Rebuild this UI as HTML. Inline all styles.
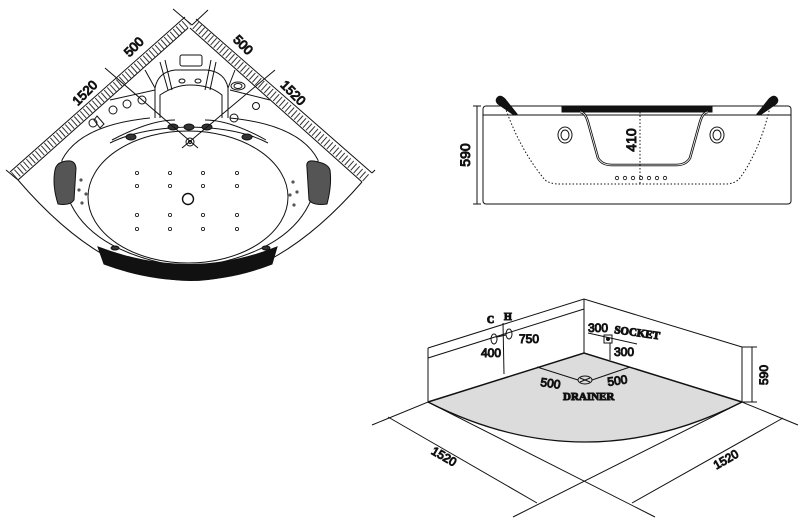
<!DOCTYPE html>
<html><head><meta charset="utf-8"><style>
html,body{margin:0;padding:0;background:#fff;}
svg{display:block;}
text{font-family:"Liberation Sans",Arial,sans-serif;fill:#111;}
.s{font-family:"Liberation Serif",serif;font-weight:bold;}
</style></head><body>
<svg width="799" height="532" viewBox="0 0 799 532" xmlns="http://www.w3.org/2000/svg" stroke="#111" fill="none" stroke-width="1">
<!-- ===== PLAN VIEW ===== -->
<g>
<path d="M14,176 L188,22" stroke-width="9" stroke-dasharray="1 3" stroke="#333"/>
<path d="M366,178 L194,24" stroke-width="9" stroke-dasharray="1 3" stroke="#333"/>
<path d="M10,172 L185,17 M18,180 L188,28 M372,173 L196,19 M362,182 L190,28"/>
<line x1="6" y1="170" x2="18" y2="180"/>
<line x1="372" y1="173" x2="375" y2="170"/>
<path d="M18,180 Q190,380 362,182"/>
<path d="M62,160 Q80,125 150,118 M230,118 Q300,125 318,160"/>
<path d="M62,160 Q60,250 190,268 Q320,250 318,160"/>
<path d="M110,143 Q140,128 190,127 Q240,128 268,143"/>
<path d="M112,140 Q150,120 175,120 M205,120 Q230,120 266,140"/>
<ellipse cx="188" cy="197" rx="100" ry="66"/>
<path d="M98,247 Q190,282 277,247 L272,264 Q190,296 104,264 Z" fill="#111"/>
<path d="M62,162 Q75,158 76,168 L74,200 Q70,206 58,204 Q52,185 55,170 Q56,164 62,162 Z" fill="#555"/>
<path d="M318,162 Q305,158 307,168 L309,200 Q313,206 327,204 Q332,185 330,170 Q328,164 318,162 Z" fill="#555"/>
<path d="M155,118 L155,88 Q158,72 175,70 L207,70 Q225,72 228,88 L228,118"/>
<path d="M160,118 L160,95 Q175,85 190,85 Q210,85 222,95 L222,118"/>
<rect x="180" y="55" width="22" height="11" rx="2"/>
<path d="M165,60 L172,90 M211,60 L205,90 M160,62 L168,90 M216,62 L210,90"/>
<path d="M145,70 L155,88 M235,70 L228,88"/>
<path d="M110,100 L155,90 M230,90 L270,100"/>
<ellipse cx="182" cy="81" rx="3" ry="2"/><ellipse cx="198" cy="81" rx="3" ry="2"/>
<ellipse cx="238" cy="86" rx="7" ry="4"/><ellipse cx="238" cy="86" rx="4" ry="2.5"/>
<circle cx="142" cy="100" r="4"/><circle cx="127" cy="104" r="4"/><circle cx="113" cy="110" r="4"/><circle cx="93" cy="123" r="4"/>
<path d="M97,116 L104,124 L100,128 L94,120 Z"/>
<circle cx="256" cy="106" r="3.5"/><circle cx="234" cy="118" r="4"/>
<g fill="#333"><ellipse cx="173" cy="127" rx="5" ry="3"/><ellipse cx="189" cy="127" rx="5" ry="3"/><ellipse cx="207" cy="127" rx="5" ry="3"/>
<ellipse cx="131" cy="137" rx="5" ry="3"/><ellipse cx="247" cy="137" rx="5" ry="3"/>
<ellipse cx="115" cy="248" rx="4" ry="2"/><ellipse cx="266" cy="248" rx="4" ry="2"/></g>
<circle cx="190" cy="142" r="4"/><circle cx="190" cy="142" r="1.5"/>
<g fill="#555" stroke="none"><circle cx="81" cy="180" r="1.6"/><circle cx="79" cy="190" r="1.6"/><circle cx="86" cy="194" r="1.6"/><circle cx="82" cy="203" r="1.6"/>
<circle cx="293" cy="182" r="1.6"/><circle cx="297" cy="192" r="1.6"/><circle cx="290" cy="195" r="1.6"/><circle cx="294" cy="205" r="1.6"/></g>
<g stroke-width="0.8">
<circle cx="137" cy="173" r="1.6"/><circle cx="170" cy="173" r="1.6"/><circle cx="203" cy="173" r="1.6"/><circle cx="237" cy="173" r="1.6"/>
<circle cx="137" cy="186" r="1.6"/><circle cx="170" cy="186" r="1.6"/><circle cx="203" cy="186" r="1.6"/><circle cx="237" cy="186" r="1.6"/>
<circle cx="137" cy="215" r="1.6"/><circle cx="170" cy="215" r="1.6"/><circle cx="203" cy="215" r="1.6"/><circle cx="237" cy="215" r="1.6"/>
<circle cx="137" cy="229" r="1.6"/><circle cx="170" cy="229" r="1.6"/><circle cx="203" cy="229" r="1.6"/><circle cx="237" cy="229" r="1.6"/>
</g>
<circle cx="188" cy="199" r="5.5" stroke-width="1.4"/>
<path d="M105,68 L198,148 M275,70 L182,148 M173,9 L192,25 M208,10 L192,25"/>
<text x="137" y="50" font-size="13" transform="rotate(-45 137 50)" text-anchor="middle">500</text>
<text x="88" y="96" font-size="13" transform="rotate(-45 88 96)" text-anchor="middle">1520</text>
<text x="240" y="48" font-size="13" transform="rotate(45 240 48)" text-anchor="middle">500</text>
<text x="290" y="96" font-size="13" transform="rotate(45 290 96)" text-anchor="middle">1520</text>
</g>

<!-- ===== SIDE VIEW ===== -->
<g>
<rect x="483" y="106" width="308" height="98" rx="3"/>
<line x1="483" y1="115" x2="791" y2="115"/>
<line x1="477" y1="106" x2="477" y2="204"/><line x1="473" y1="106" x2="481" y2="106"/><line x1="473" y1="204" x2="481" y2="204"/>
<text x="470" y="155" font-size="14" transform="rotate(-90 470 155)" text-anchor="middle">590</text>
<rect x="562" y="106" width="150" height="6" fill="#111"/>
<path d="M580,112 Q585,112 588,122 L598,158 Q602,165 612,165 L676,165 Q686,165 690,158 L700,122 Q703,112 708,112" stroke-width="2.5"/>
<path d="M580,112 Q585,112 588,122 L598,158 Q602,165 612,165 L676,165 Q686,165 690,158 L700,122 Q703,112 708,112" stroke="#fff" stroke-width="0.8"/>
<path d="M505,107 Q520,150 545,180 Q550,184 560,184 L725,184 Q735,184 740,178 Q760,150 770,107" stroke-dasharray="1.5 2"/>
<line x1="640" y1="112" x2="640" y2="184" stroke-dasharray="1.5 2"/>
<text x="636" y="140" font-size="14" transform="rotate(-90 636 140)" text-anchor="middle">410</text>
<ellipse cx="565" cy="135" rx="7" ry="8"/><ellipse cx="565" cy="135" rx="4" ry="5"/>
<ellipse cx="717" cy="135" rx="7" ry="8"/><ellipse cx="717" cy="135" rx="4" ry="5"/>
<g stroke-width="0.8"><circle cx="617" cy="178" r="1.7"/><circle cx="625" cy="178" r="1.7"/><circle cx="633" cy="178" r="1.7"/><circle cx="641" cy="178" r="1.7"/><circle cx="649" cy="178" r="1.7"/><circle cx="657" cy="178" r="1.7"/><circle cx="665" cy="178" r="1.7"/></g>
<path d="M497,98 Q500,94 505,99 L517,114 L514,115 L498,104 Q495,101 497,98 Z" fill="#111"/>
<path d="M777,98 Q774,94 769,99 L757,114 L760,115 L776,104 Q779,101 777,98 Z" fill="#111"/>
</g>

<!-- ===== ISO VIEW ===== -->
<g>
<path d="M428,402 L584,353 L742,402 Q585,482 428,402 Z" fill="#dcdcdc" stroke="none"/>
<path d="M428,402 L584,353 L742,402" stroke-width="1.5"/>
<path d="M428,402 Q585,482 742,402" stroke-width="1.3"/>
<path d="M428,348 L428,402 M584,299 L584,353 M742,347 L742,402"/>
<path d="M428,348 L584,299 L742,347"/>
<path d="M428,358 L584,309"/>
<path d="M742,347 L757,347 M742,402 L757,402 M752,347 L752,402"/>
<text x="768" y="375" font-size="12" transform="rotate(-90 768 375)" text-anchor="middle">590</text>
<ellipse cx="494" cy="339" rx="3" ry="5"/><ellipse cx="509" cy="334" rx="3" ry="5"/>
<line x1="497" y1="337" x2="506" y2="335"/>
<line x1="503" y1="323" x2="504" y2="374"/>
<text x="487" y="323" font-size="10" class="s">C</text>
<text x="504" y="320" font-size="10" class="s">H</text>
<text x="519" y="343" font-size="12">750</text>
<text x="481" y="357" font-size="12">400</text>
<rect x="604" y="335" width="8" height="8"/>
<circle cx="608" cy="339" r="1.5" fill="#111"/>
<path d="M588,333 L637,344 M610,343 L610,360"/>
<text x="588" y="332" font-size="12">300</text>
<text x="614" y="356" font-size="12">300</text>
<text x="614" y="333" font-size="11" class="s" transform="rotate(8 614 333)">SOCKET</text>
<ellipse cx="585" cy="380" rx="7" ry="4"/>
<path d="M580,378 L590,382 M580,382 L590,378"/>
<path d="M537,367 L578,380 M592,380 L630,367"/>
<text x="540" y="386" font-size="12" transform="rotate(8 540 386)">500</text>
<text x="608" y="386" font-size="12" transform="rotate(-8 608 386)">500</text>
<text x="563" y="400" font-size="11" class="s">DRAINER</text>
<path d="M372,425 L428,402 L655,517 M513,517 L742,402 L798,425"/>
<path d="M388,417 L537,503 M632,503 L783,418"/>
<text x="442" y="460" font-size="12" transform="rotate(30 442 460)" text-anchor="middle">1520</text>
<text x="728" y="463" font-size="12" transform="rotate(-30 728 463)" text-anchor="middle">1520</text>
</g>
</svg>
</body></html>
